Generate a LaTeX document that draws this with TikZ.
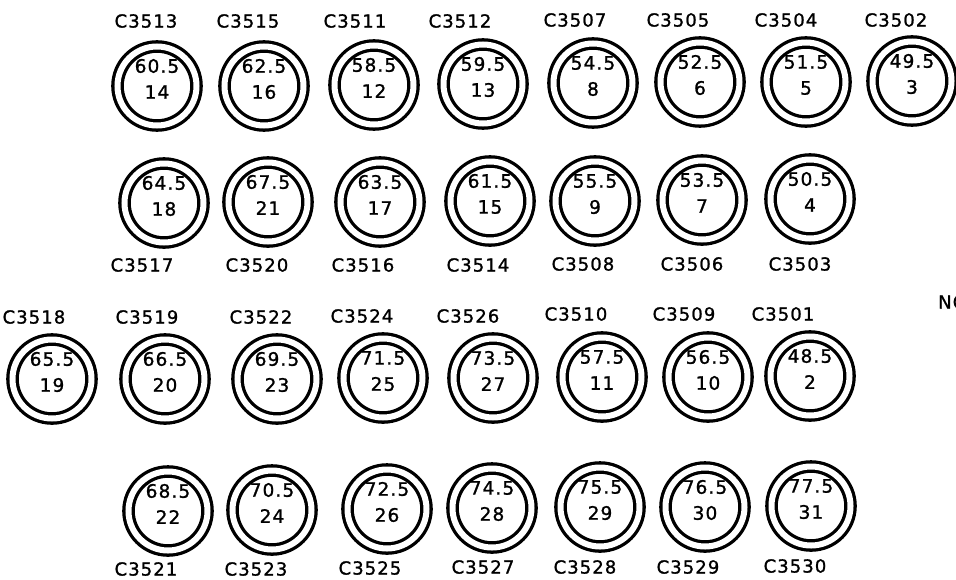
\documentclass[tikz,border=0pt]{standalone}
\usepackage{fontspec}
\setmainfont{DejaVu Sans}[LetterSpace=6, FakeBold=1.2]
\tikzset{
  tank/.style = {circle, draw, line width=3.3pt, double, double distance=6pt, minimum size=79pt, inner sep=0},
  num/.style  = {font=\fontsize{18.5}{19}\selectfont, inner sep=0},
  tag/.style  = {font=\fontsize{18}{19}\selectfont, inner sep=0}
}

\begin{document}
\begin{tikzpicture}[x=1pt, y=-1pt]
  \clip (0,0) rectangle (956,579);
  % top row
  \node[tank] (t14) at (157,86){}; \node[num] (t14a) at ([yshift=20]t14.center) {60.5}; \node[num] (t14b) at ([yshift=-6]t14.center) {14}; \node[tag] (c3513) at (146,21) {C3513};
  \node[tank] (t16) at (264,86){}; \node[num] (t16a) at ([yshift=20]t16.center) {62.5}; \node[num] (t16b) at ([yshift=-6]t16.center) {16}; \node[tag] (c3515) at (248,21) {C3515};
  \node[tank] (t12) at (374,85){}; \node[num] (t12a) at ([yshift=20]t12.center) {58.5}; \node[num] (t12b) at ([yshift=-6]t12.center) {12}; \node[tag] (c3511) at (355,21) {C3511};
  \node[tank] (t13) at (483,84){}; \node[num] (t13a) at ([yshift=20]t13.center) {59.5}; \node[num] (t13b) at ([yshift=-6]t13.center) {13}; \node[tag] (c3512) at (460,21) {C3512};
  \node[tank] (t8)  at (593,83){}; \node[num] (t8a)  at ([yshift=20]t8.center)  {54.5}; \node[num] (t8b)  at ([yshift=-6]t8.center)  {8};  \node[tag] (c3507) at (575,20) {C3507};
  \node[tank] (t6)  at (700,82){}; \node[num] (t6a)  at ([yshift=20]t6.center)  {52.5}; \node[num] (t6b)  at ([yshift=-6]t6.center)  {6};  \node[tag] (c3505) at (678,20) {C3505};
  \node[tank] (t5)  at (806,82){}; \node[num] (t5a)  at ([yshift=20]t5.center)  {51.5}; \node[num] (t5b)  at ([yshift=-6]t5.center)  {5};  \node[tag] (c3504) at (786,20) {C3504};
  \node[tank] (t3)  at (912,81){}; \node[num] (t3a)  at ([yshift=20]t3.center)  {49.5}; \node[num] (t3b)  at ([yshift=-6]t3.center)  {3};  \node[tag] (c3502) at (896,20) {C3502};
  % second row
  \node[tank] (t18) at (164,203){}; \node[num] (t18a) at ([yshift=20]t18.center) {64.5}; \node[num] (t18b) at ([yshift=-6]t18.center) {18}; \node[tag] (c3517) at (142,265) {C3517};
  \node[tank] (t21) at (268,202){}; \node[num] (t21a) at ([yshift=20]t21.center) {67.5}; \node[num] (t21b) at ([yshift=-6]t21.center) {21}; \node[tag] (c3520) at (257,265) {C3520};
  \node[tank] (t17) at (380,202){}; \node[num] (t17a) at ([yshift=20]t17.center) {63.5}; \node[num] (t17b) at ([yshift=-6]t17.center) {17}; \node[tag] (c3516) at (363,265) {C3516};
  \node[tank] (t15) at (490,201){}; \node[num] (t15a) at ([yshift=20]t15.center) {61.5}; \node[num] (t15b) at ([yshift=-6]t15.center) {15}; \node[tag] (c3514) at (478,265) {C3514};
  \node[tank] (t9)  at (595,201){}; \node[num] (t9a)  at ([yshift=20]t9.center)  {55.5}; \node[num] (t9b)  at ([yshift=-6]t9.center)  {9};  \node[tag] (c3508) at (583,264) {C3508};
  \node[tank] (t7)  at (702,200){}; \node[num] (t7a)  at ([yshift=20]t7.center)  {53.5}; \node[num] (t7b)  at ([yshift=-6]t7.center)  {7};  \node[tag] (c3506) at (692,264) {C3506};
  \node[tank] (t4)  at (810,199){}; \node[num] (t4a)  at ([yshift=20]t4.center)  {50.5}; \node[num] (t4b)  at ([yshift=-6]t4.center)  {4};  \node[tag] (c3503) at (800,264) {C3503};
  % third row
  \node[tank] (t19) at (52,379){};  \node[num] (t19a) at ([yshift=20]t19.center) {65.5}; \node[num] (t19b) at ([yshift=-6]t19.center) {19}; \node[tag] (c3518) at (34,317) {C3518};
  \node[tank] (t20) at (165,379){}; \node[num] (t20a) at ([yshift=20]t20.center) {66.5}; \node[num] (t20b) at ([yshift=-6]t20.center) {20}; \node[tag] (c3519) at (147,317) {C3519};
  \node[tank] (t23) at (277,379){}; \node[num] (t23a) at ([yshift=20]t23.center) {69.5}; \node[num] (t23b) at ([yshift=-6]t23.center) {23}; \node[tag] (c3522) at (261,317) {C3522};
  \node[tank] (t25) at (383,378){}; \node[num] (t25a) at ([yshift=20]t25.center) {71.5}; \node[num] (t25b) at ([yshift=-6]t25.center) {25}; \node[tag] (c3524) at (362,316) {C3524};
  \node[tank] (t27) at (493,378){}; \node[num] (t27a) at ([yshift=20]t27.center) {73.5}; \node[num] (t27b) at ([yshift=-6]t27.center) {27}; \node[tag] (c3526) at (468,316) {C3526};
  \node[tank] (t11) at (602,377){}; \node[num] (t11a) at ([yshift=20]t11.center) {57.5}; \node[num] (t11b) at ([yshift=-6]t11.center) {11}; \node[tag] (c3510) at (576,314) {C3510};
  \node[tank] (t10) at (708,377){}; \node[num] (t10a) at ([yshift=20]t10.center) {56.5}; \node[num] (t10b) at ([yshift=-6]t10.center) {10}; \node[tag] (c3509) at (684,314) {C3509};
  \node[tank] (t2)  at (810,376){}; \node[num] (t2a)  at ([yshift=20]t2.center)  {48.5}; \node[num] (t2b)  at ([yshift=-6]t2.center)  {2};  \node[tag] (c3501) at (783,314) {C3501};
  \node[tag,anchor=west] (no) at (938,302) {NO};
  % bottom row
  \node[tank] (t22) at (168,511){}; \node[num] (t22a) at ([yshift=20]t22.center) {68.5}; \node[num] (t22b) at ([yshift=-6]t22.center) {22}; \node[tag] (c3521) at (146,569) {C3521};
  \node[tank] (t24) at (272,510){}; \node[num] (t24a) at ([yshift=20]t24.center) {70.5}; \node[num] (t24b) at ([yshift=-6]t24.center) {24}; \node[tag] (c3523) at (256,569) {C3523};
  \node[tank] (t26) at (387,509){}; \node[num] (t26a) at ([yshift=20]t26.center) {72.5}; \node[num] (t26b) at ([yshift=-6]t26.center) {26}; \node[tag] (c3525) at (370,568) {C3525};
  \node[tank] (t28) at (492,508){}; \node[num] (t28a) at ([yshift=20]t28.center) {74.5}; \node[num] (t28b) at ([yshift=-6]t28.center) {28}; \node[tag] (c3527) at (483,567) {C3527};
  \node[tank] (t29) at (600,507){}; \node[num] (t29a) at ([yshift=20]t29.center) {75.5}; \node[num] (t29b) at ([yshift=-6]t29.center) {29}; \node[tag] (c3528) at (585,567) {C3528};
  \node[tank] (t30) at (705,507){}; \node[num] (t30a) at ([yshift=20]t30.center) {76.5}; \node[num] (t30b) at ([yshift=-6]t30.center) {30}; \node[tag] (c3529) at (688,567) {C3529};
  \node[tank] (t31) at (811,506){}; \node[num] (t31a) at ([yshift=20]t31.center) {77.5}; \node[num] (t31b) at ([yshift=-6]t31.center) {31}; \node[tag] (c3530) at (795,566) {C3530};
\end{tikzpicture}
\end{document}
